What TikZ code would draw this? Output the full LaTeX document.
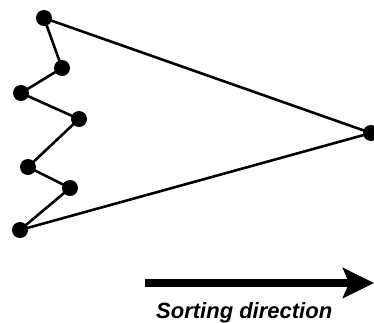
\documentclass[tikz,border=0pt]{standalone}
\usepackage{fontspec}
\setmainfont{Liberation Sans}
\usetikzlibrary{arrows.meta,positioning}

\begin{document}
\begin{tikzpicture}[x=1pt,y=-1pt,>=latex]
    \tikzset{dot/.style={
      circle,
      fill=black,
      inner sep=0pt,
      minimum size=16pt
    }};
    \tikzset{link/.style={draw,line width=2.6pt}};

    \useasboundingbox (0,0) rectangle (374,322);

    \node [dot] (p1) at (44,18) {};
    \node [dot] (p2) at (62,68) {};
    \node [dot] (p3) at (21,93) {};
    \node [dot] (p4) at (79,119) {};
    \node [dot] (p5) at (28,167) {};
    \node [dot] (p6) at (70,188) {};
    \node [dot] (p7) at (20,230) {};
    \node [dot] (apex) at (371,133) {};

    \path[link] (p1.center) -- (p2.center) -- (p3.center) -- (p4.center)
      -- (p5.center) -- (p6.center) -- (p7.center) -- (apex.center)
      -- (p1.center);

    \coordinate (from) at (145,283);
    \coordinate (to) at (374,283);
    \path[draw,line width=8pt,-{Stealth[length=31pt,width=30pt,inset=6pt]}]
      (from) -- (to);

    \node [below=19pt of from, anchor=north west, xshift=11pt, inner sep=0pt,
      font=\fontsize{22}{24}\selectfont\bfseries\itshape] (label)
      {Sorting direction};
  \end{tikzpicture}
\end{document}
